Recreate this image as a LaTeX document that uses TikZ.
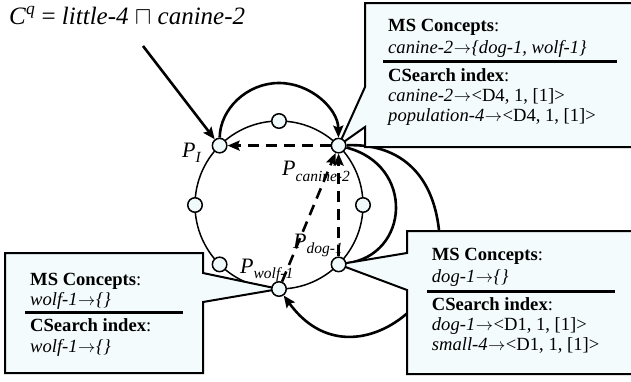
\documentclass[tikz,border=0pt]{standalone}
\usepackage{fontspec}
\setmainfont{Liberation Serif}
\usetikzlibrary{arrows.meta}
\pgfdeclarelayer{bg}
\pgfdeclarelayer{mid}
\pgfsetlayers{bg,mid,main}
\definecolor{boxfill}{RGB}{244,251,253}
\definecolor{ringfill}{RGB}{240,250,250}
\newcommand{\myarr}{\kern0.5pt$\rightarrow$\kern0.5pt}
\begin{document}
\begin{tikzpicture}[x=1pt,y=-1pt,
  ringnode/.style={circle,draw,line width=1.5pt,fill=ringfill,minimum size=14.5pt,inner sep=0pt},
  callout/.style={draw,line width=2pt,fill=boxfill,line join=miter},
  solidarrow/.style={line width=2.6pt,-{Stealth[length=12pt,width=10pt,inset=2pt]}},
  plainarc/.style={line width=2.6pt},
  dasharrow/.style={line width=2.6pt,dash pattern=on 11pt off 7pt,-{Stealth[length=12pt,width=10pt,inset=2pt]}},
  seprule/.style={line width=2.5pt},
  boxtext/.style={anchor=base west,inner sep=0pt,font=\fontsize{18.6}{20}\selectfont},
  plabel/.style={anchor=base west,inner sep=0pt,font=\fontsize{22}{22}\selectfont\itshape},
]
\useasboundingbox (0,0) rectangle (631,381);

% ring
\begin{pgfonlayer}{bg}
\draw[line width=1.5pt] (279,205) circle[radius=84pt];
\end{pgfonlayer}

% ring nodes
\node[ringnode] (Ptop)   at (279,121) {};
\node[ringnode] (PI)     at (219.6,145.6) {};
\node[ringnode] (Pc)     at (338.6,145.6) {};
\node[ringnode] (Pleft)  at (195,205) {};
\node[ringnode] (Pright) at (363,205) {};
\node[ringnode] (Pll)    at (219.6,264.4) {};
\node[ringnode] (Pd)     at (338.6,264.4) {};
\node[ringnode] (Pw)     at (279,289) {};

% arcs hidden partly by callouts
\begin{pgfonlayer}{bg}
\draw[plainarc] (Pc) .. controls (415,165) and (410,255) .. (Pd);
\draw[solidarrow] (Pc) .. controls (400,143) and (440,175) .. (440,250)
   .. controls (440,310) and (345,380) .. (Pw);
\end{pgfonlayer}

% callouts
\begin{pgfonlayer}{mid}
\draw[callout] (365,3) -- (640,3) -- (640,147) -- (365,147) -- (365,127) -- (Pc.center) -- (365,87) -- cycle;
\draw[callout] (407,231) -- (640,231) -- (640,374) -- (407,374) -- (407,290) -- (Pd.center) -- (407,253) -- cycle;
\draw[callout] (5,253) -- (203,253) -- (203,273) -- (Pw.center) -- (203,302) -- (203,373) -- (5,373) -- cycle;
\end{pgfonlayer}

% callout texts
\node[boxtext] (tr1) at (388,31.7) {\textbf{MS Concepts}:};
\node[boxtext] (tr2) at (388,53.3) {\textit{canine-2\myarr\{dog-1, wolf-1\}}};
\draw[seprule] (383,61.7) -- (617,61.7);
\node[boxtext] (tr3) at (388,81.2) {\textbf{CSearch index}:};
\node[boxtext] (tr4) at (388,101.2) {\textit{canine-2}\myarr<D4, 1, [1]>};
\node[boxtext] (tr5) at (388,121.2) {\textit{population-4}\myarr<D4, 1, [1]>};

\node[boxtext] (br1) at (431.7,260.7) {\textbf{MS Concepts}:};
\node[boxtext] (br2) at (431.7,282.3) {\textit{dog-1\myarr\{\}}};
\draw[seprule] (426.7,291.7) -- (615,291.7);
\node[boxtext] (br3) at (431.7,310) {\textbf{CSearch index}:};
\node[boxtext] (br4) at (431.7,330.5) {\textit{dog-1}\myarr<D1, 1, [1]>};
\node[boxtext] (br5) at (431.7,350.5) {\textit{small-4}\myarr<D1, 1, [1]>};

\node[boxtext] (bl1) at (30,285) {\textbf{MS Concepts}:};
\node[boxtext] (bl2) at (30,305) {\textit{wolf-1\myarr\{\}}};
\draw[seprule] (25,312.7) -- (183.3,312.7);
\node[boxtext] (bl3) at (30,331.7) {\textbf{CSearch index}:};
\node[boxtext] (bl4) at (30,352.7) {\textit{wolf-1\myarr\{\}}};

% title
\node[anchor=base west,inner sep=0pt,font=\fontsize{25}{25}\selectfont] (title) at (9,24)
  {\textit{C}\textsuperscript{\textit{q}} = \textit{little-4} $\sqcap$ \textit{canine-2}};
\coordinate (cqstart) at (143,46);

% node labels
\node[plabel] (lPI) at (182,157) {P\raisebox{-5pt}{\fontsize{15.5}{15.5}\selectfont I}};
\node[plabel] (lPc) at (282,175) {P\raisebox{-6.5pt}{\fontsize{15.5}{15.5}\selectfont canine-2}};
\node[plabel] (lPd) at (293,248) {P\raisebox{-5.5pt}{\fontsize{15.5}{15.5}\selectfont dog-1}};
\node[plabel] (lPw) at (240,273) {P\raisebox{-5pt}{\fontsize{15.5}{15.5}\selectfont wolf-1}};

% arrows
\draw[solidarrow] (cqstart) -- (PI);
\draw[solidarrow] (PI) .. controls (220,109) and (247,83) .. (279,83)
   .. controls (311,83) and (338,109) .. (Pc);
\draw[dasharrow] (Pc) -- (PI);
\draw[dasharrow] (Pd) -- (Pc);
\draw[dasharrow] (Pw) -- (Pc);
\end{tikzpicture}
\end{document}
